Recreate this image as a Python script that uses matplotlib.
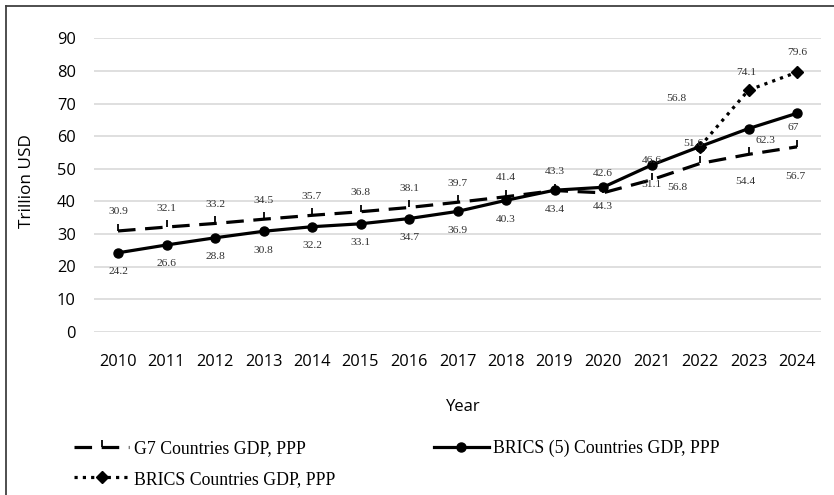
import matplotlib
matplotlib.use("Agg")
import matplotlib.pyplot as plt
from matplotlib.lines import Line2D
from matplotlib.path import Path

years = ["2010", "2011", "2012", "2013", "2014", "2015", "2016", "2017",
         "2018", "2019", "2020", "2021", "2022", "2023", "2024"]
g7 = [30.9, 32.1, 33.2, 34.5, 35.7, 36.8, 38.1, 39.7, 41.4, 43.3, 42.6, 46.6, 51.6, 54.4, 56.7]
brics5 = [24.2, 26.6, 28.8, 30.8, 32.2, 33.1, 34.7, 36.9, 40.3, 43.4, 44.3, 51.1, 56.8, 62.3, 67]
brics_years = ["2022", "2023", "2024"]
brics = [56.8, 74.1, 79.6]

labels = ["G7 Countries GDP, PPP", "BRICS (5) Countries GDP, PPP", "BRICS Countries GDP, PPP"]

# data label offsets in pixels (dx, dy), hand placed like the original sheet
g7_off = [(0, 19)] * 12 + [(-7, 20), (-3, -27), (-2, -30)]
b5_off = [(0, -19)] * 12 + [(-23, -41), (17, -12), (-4, -14)]
br_off = [(-24, 48), (-2, 18), (0, 20)]

SANS = "Open Sans"
SERIF = "Liberation Serif"

fig = plt.figure(figsize=(8.34, 4.95), dpi=100)
W, H = 834, 495
ax = fig.add_axes([93.75 / W, 1 - 331.7 / H, (821.25 - 93.75) / W, (331.7 - 38.3) / H])

x = list(range(len(years)))
xb = [years.index(y) for y in brics_years]

tick_up = Path([(0, 0), (0, 1)], [Path.MOVETO, Path.LINETO])

ax.plot(x, g7, color="black", lw=2.3, linestyle=(0, (5.5, 3)), marker=tick_up,
        markersize=10, markeredgewidth=1.3, label=labels[0], zorder=3)
ax.plot(x, brics5, color="black", lw=2.3, marker="o", markersize=6.5, label=labels[1], zorder=4)
ax.plot(xb, brics, color="black", lw=2.3, linestyle=(0, (1, 1.6)), marker="D",
        markersize=6, label=labels[2], zorder=5)

for xs, ys, offs in [(x, g7, g7_off), (x, brics5, b5_off), (xb, brics, br_off)]:
    for xi, yi, (dx, dy) in zip(xs, ys, offs):
        ax.annotate(f"{yi:g}", (xi, yi), xytext=(dx, dy), textcoords="offset pixels",
                    ha="center", va="center", fontsize=8.2, family=SERIF, color="#303030",
                    zorder=6)

ax.set_xlim(-0.5, len(years) - 0.5)
ax.set_ylim(0, 90)
ax.set_yticks(range(0, 91, 10))
ax.set_xticks(x)
ax.set_xticklabels(years)
ax.grid(axis="y", color="#d9d9d9", lw=1.2)
ax.set_axisbelow(True)
for s in ax.spines.values():
    s.set_visible(False)
ax.tick_params(length=0, labelsize=11.8)
for t in ax.get_xticklabels() + ax.get_yticklabels():
    t.set_family(SANS)
ax.tick_params(axis="y", pad=13)
ax.tick_params(axis="x", pad=16)

fig.text(463 / W, 1 - 407 / H, "Year", ha="center", va="center", fontsize=12, family=SANS)
fig.text(27 / W, 1 - 181 / H, "Trillion USD", ha="center", va="center", rotation=90,
         fontsize=12.3, family=SANS)

# legend order: column-wise fill gives G7 | BRICS(5) on row 1, BRICS on row 2
h = ax.get_legend_handles_labels()[0]
leg = fig.legend([h[0], h[2], h[1]], [labels[0], labels[2], labels[1]], ncol=2,
                 loc="upper left", bbox_to_anchor=(67 / W, 1 - 433 / H), frameon=False,
                 prop={"family": SERIF, "size": 12.8}, handlelength=3.1, handletextpad=0.25,
                 columnspacing=5.55, labelspacing=0.75, borderaxespad=0, numpoints=1)

# outer frame (only left and top edges visible in the crop)
fig.add_artist(Line2D([5.5 / W, 5.5 / W], [0, 1 - 5.5 / H], color="#404040", lw=1.3))
fig.add_artist(Line2D([5.5 / W, 1], [1 - 5.5 / H, 1 - 5.5 / H], color="#404040", lw=1.3))

fig.savefig("out.png", dpi=100)
